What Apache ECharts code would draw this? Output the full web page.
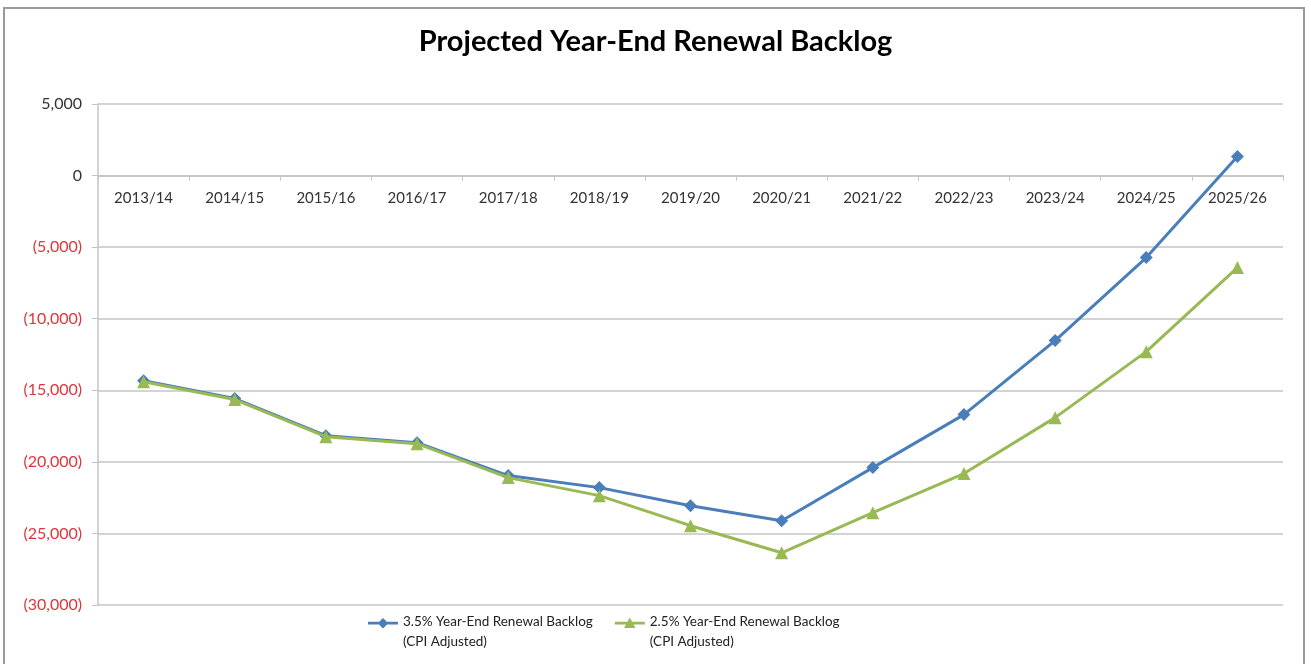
<!DOCTYPE html>
<html>
<head>
<meta charset="utf-8">
<script src="https://cdn.jsdelivr.net/npm/echarts@6/dist/echarts.min.js"></script>
<style>
  html, body { margin: 0; padding: 0; background: #fff; }
  #frame {
    position: absolute; left: 3px; top: 7px; width: 1302px; height: 670px;
    border: 2px solid #9a9a9a; box-sizing: border-box;
  }
  #chart { position: absolute; left: 0; top: 0; width: 1311px; height: 664px; }
</style>
</head>
<body>
<div id="frame"></div>
<div id="chart"></div>
<script>
  const categories = ['2013/14', '2014/15', '2015/16', '2016/17', '2017/18', '2018/19', '2019/20',
    '2020/21', '2021/22', '2022/23', '2023/24', '2024/25', '2025/26'];
  const backlog35 = [-14330, -15580, -18170, -18660, -20960, -21800, -23060,
    -24110, -20400, -16700, -11530, -5730, 1330];
  const backlog25 = [-14400, -15650, -18240, -18730, -21100, -22360, -24460,
    -26350, -23550, -20820, -16910, -12300, -6430];
  const seriesNames = ['3.5% Year-End Renewal Backlog\n(CPI Adjusted)', '2.5% Year-End Renewal Backlog\n(CPI Adjusted)'];

  const font = 'Lato, "Open Sans", sans-serif';
  const gridGray = '#c4c4c4';
  const blue = '#4a7ebb';
  const green = '#98b954';

  // legend icons: line + marker sitting on the first text line (box 30 x 40)
  const iconDiamond = 'path://M0,0 L0,0 M0,8.5 L34,8.5 L34,11.5 L0,11.5 Z M17,4 L23,10 L17,16 L11,10 Z M34,40 L34,40';
  const iconTriangle = 'path://M0,0 L0,0 M0,8.5 L34,8.5 L34,11.5 L0,11.5 Z M17,3.5 L23.5,15.5 L10.5,15.5 Z M34,40 L34,40';

  function fmt(v) {
    const s = Math.abs(v).toLocaleString('en-US');
    return v < 0 ? '(' + s + ')' : s;
  }

  const chart = echarts.init(document.getElementById('chart'), null, { renderer: 'canvas' });
  const option = {
    animation: false,
    title: {
      text: 'Projected Year-End Renewal Backlog',
      left: 'center',
      top: 22,
      textStyle: { fontFamily: font, fontSize: 29, fontWeight: 'bold', color: '#000' }
    },
    grid: { left: 98, right: 28, top: 104, bottom: 59 },
    legend: {
      left: 363,
      top: 607,
      itemGap: 22,
      itemWidth: 30,
      itemHeight: 40,
      itemStyle: { borderWidth: 0 },
      textStyle: { fontFamily: font, fontSize: 13.5, color: '#222', lineHeight: 20 },
      data: [
        { name: seriesNames[0], icon: iconDiamond },
        { name: seriesNames[1], icon: iconTriangle }
      ]
    },
    xAxis: {
      type: 'category',
      data: categories,
      offset: 0,
      axisLine: { onZero: false, lineStyle: { color: gridGray, width: 1.5 } },
      axisTick: { show: true, length: 5, lineStyle: { color: gridGray } },
      axisLabel: { fontFamily: font, fontSize: 15, color: '#333', margin: 15 }
    },
    yAxis: {
      type: 'value',
      min: -30000,
      max: 5000,
      interval: 5000,
      axisLine: { show: true, lineStyle: { color: gridGray, width: 1.5 } },
      axisTick: { show: true, length: 6, lineStyle: { color: gridGray } },
      splitLine: { lineStyle: { color: gridGray, width: 1.5 } },
      axisLabel: {
        fontFamily: font, fontSize: 16, margin: 16,
        formatter: fmt,
        color: function (v) { return Number(v) < 0 ? '#e0343c' : '#333'; }
      }
    },
    series: [
      {
        name: seriesNames[0],
        type: 'line',
        data: backlog35,
        symbol: 'diamond',
        symbolSize: 13,
        lineStyle: { color: blue, width: 3 },
        itemStyle: { color: blue },
        z: 3
      },
      {
        name: seriesNames[1],
        type: 'line',
        data: backlog25,
        symbol: 'triangle',
        symbolSize: 13,
        lineStyle: { color: green, width: 3 },
        itemStyle: { color: green },
        z: 4
      }
    ]
  };
  chart.setOption(option);

  // move the category axis up to the zero line (onZero does not take here)
  const zeroY = chart.convertToPixel({ yAxisIndex: 0 }, 0);
  const bottomY = chart.convertToPixel({ yAxisIndex: 0 }, -30000);
  chart.setOption({ xAxis: { offset: zeroY - bottomY } });
</script>
</body>
</html>
